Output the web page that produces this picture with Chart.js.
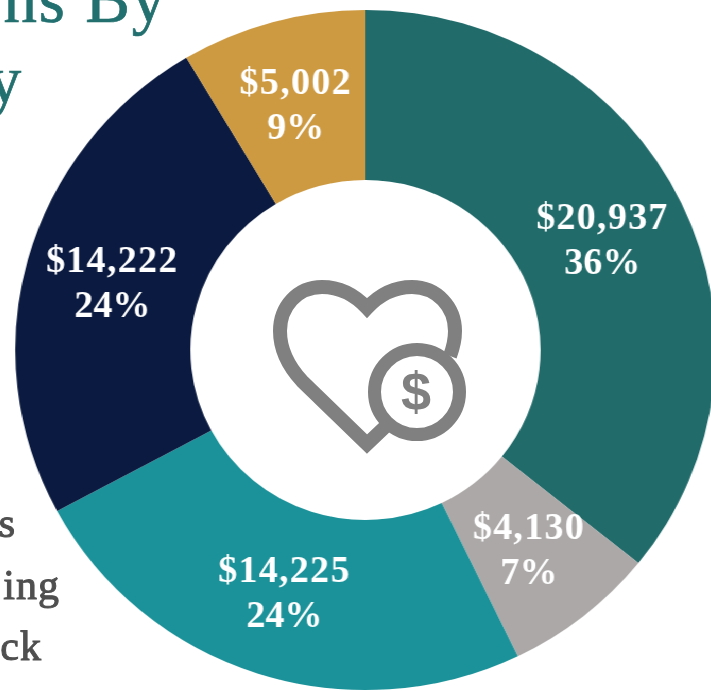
<!DOCTYPE html>
<html>
<head>
<meta charset="utf-8">
<script src="https://cdn.jsdelivr.net/npm/chart.js@4"></script>
<style>
html,body{margin:0;padding:0;background:#fff;width:711px;height:691px;overflow:hidden}
#stage{position:absolute;left:0;top:0;width:711px;height:691px;overflow:hidden;filter:blur(0.7px)}
#wrap{position:absolute;left:4.5px;top:0;width:700px;height:691px;transform:scaleX(1.03);transform-origin:0 0}
.frag{position:absolute;font-family:"Liberation Serif",serif;white-space:nowrap;text-align:right}
.title{color:#22706f;font-size:67px;line-height:66px;letter-spacing:1.8px;-webkit-text-stroke:0.7px #22706f}
.leg{color:#4f4f4f;font-size:42px;line-height:40px;letter-spacing:1px;-webkit-text-stroke:1px #4f4f4f}
svg{position:absolute;left:0;top:0}
</style>
</head>
<body>
<div id="stage">
  <div id="wrap"><canvas id="c" width="700" height="691"></canvas></div>
  <div class="frag title" style="right:544px;top:-34px">ns By</div>
  <div class="frag title" style="right:688px;top:47px">y</div>
  <div class="frag leg" style="right:695px;top:503px">s</div>
  <div class="frag leg" style="right:651px;top:565px">ing</div>
  <div class="frag leg" style="right:669px;top:626px">ck</div>
  <svg width="711" height="691" fill="none" stroke="#808080" stroke-width="14">
    <path d="M450 356C453 348 455 340 455 331C455 307 437 287 412 287C396 287 380 294 367 308C354 294 338 287 322 287C297 287 280 307 280 331C280 350 290 368 302 381L367 444L386 426"/>
    <circle cx="417" cy="392" r="42.5" stroke-width="13"/>
    <text x="416" y="410" text-anchor="middle" font-family="Liberation Sans" font-weight="bold" font-size="54" fill="#808080" stroke="none">$</text>
  </svg>
</div>
<script>
const categories = ["Slice A", "Slice B", "Slice C", "Slice D", "Slice E"];
const amounts = [20937, 4130, 14225, 14222, 5002];
const amountLabels = ["$20,937", "$4,130", "$14,225", "$14,222", "$5,002"];
const percentLabels = ["36%", "7%", "24%", "24%", "9%"];
const sliceColors = ["#226b6b", "#aca8a8", "#1b9299", "#0b1a40", "#cd9a42"];

const sliceLabels = {
  id: "sliceLabels",
  afterDatasetsDraw(chart) {
    const ctx = chart.ctx;
    const arcs = chart.getDatasetMeta(0).data;
    ctx.save();
    ctx.fillStyle = "#ffffff";
    ctx.font = 'bold 37px "Liberation Serif", serif';
    ctx.textAlign = "center";
    ctx.textBaseline = "middle";
    arcs.forEach((arc, i) => {
      const p = arc.getCenterPoint();
      ctx.letterSpacing = "1.2px";
      ctx.fillText(amountLabels[i], p.x, p.y - 20);
      ctx.letterSpacing = "0px";
      ctx.fillText(percentLabels[i], p.x, p.y + 25);
    });
    ctx.restore();
  }
};

new Chart(document.getElementById("c"), {
  type: "doughnut",
  data: {
    labels: categories,
    datasets: [{ data: amounts, backgroundColor: sliceColors, borderWidth: 0 }]
  },
  options: {
    responsive: false,
    animation: false,
    cutout: "50%",
    layout: { padding: { top: 10, bottom: 1, left: 0, right: 0 } },
    plugins: { legend: { display: false }, tooltip: { enabled: false } }
  },
  plugins: [sliceLabels]
});
</script>
</body>
</html>
